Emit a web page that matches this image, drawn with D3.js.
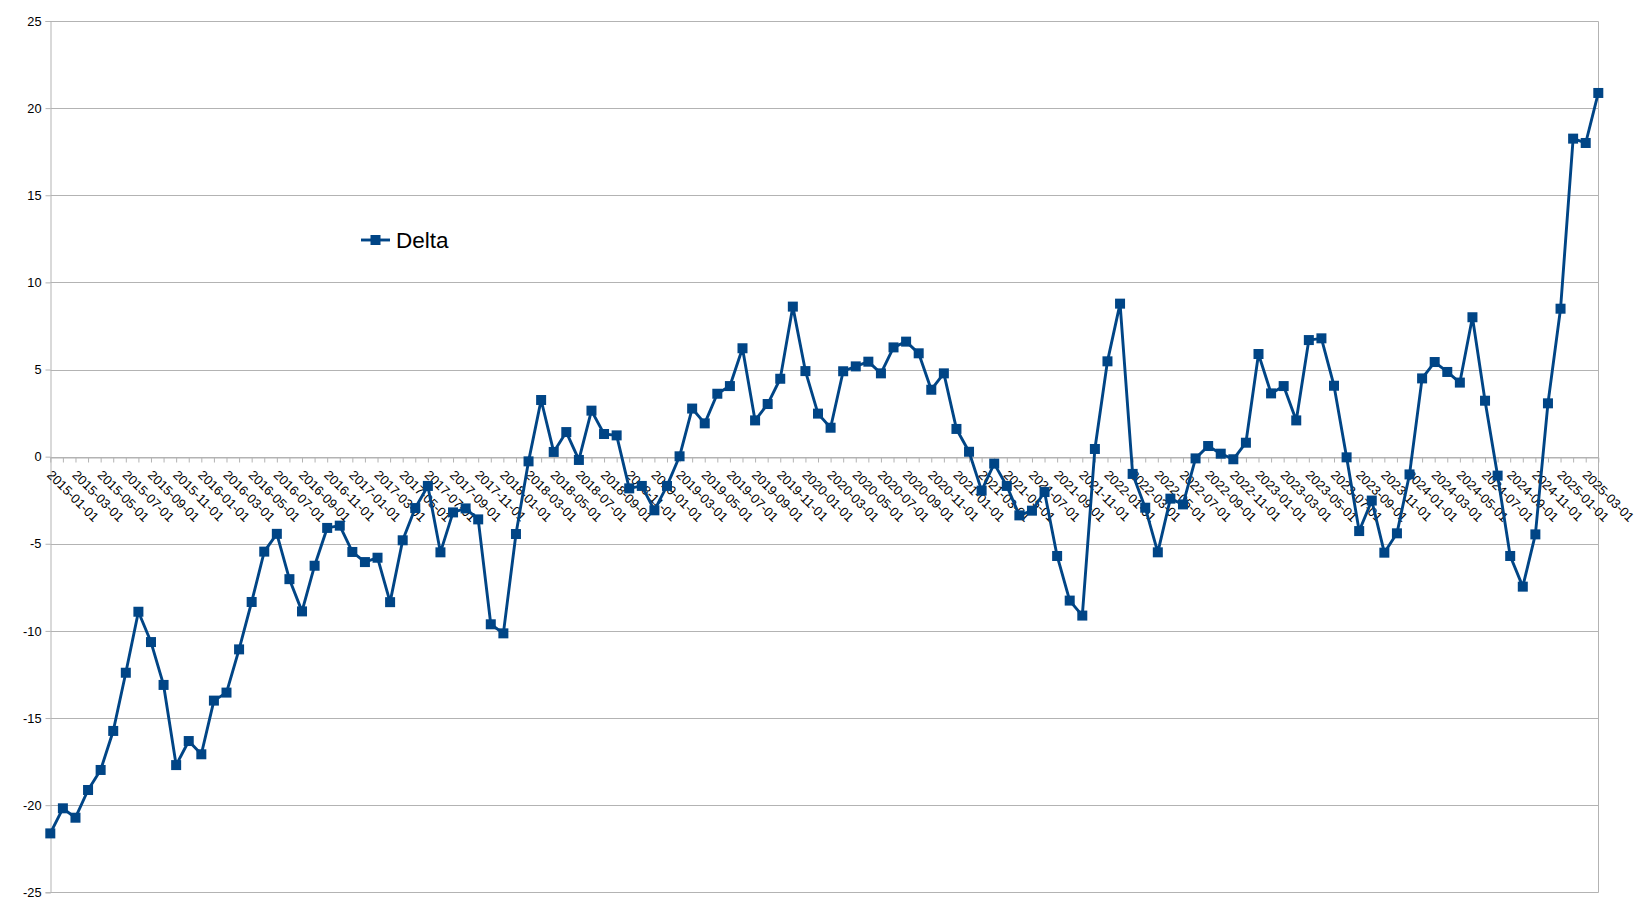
<!DOCTYPE html>
<html>
<head>
<meta charset="utf-8">
<script src="https://cdn.jsdelivr.net/npm/d3@7"></script>
<style>
  html, body { margin: 0; padding: 0; background: #ffffff; }
  svg { display: block; font-family: "Liberation Sans", Arial, sans-serif; }
</style>
</head>
<body>
<svg id="chart" width="1641" height="906"></svg>
<script>
// ---- data ----
const categories = [
  "2015-01-01","2015-02-01","2015-03-01","2015-04-01","2015-05-01","2015-06-01","2015-07-01","2015-08-01","2015-09-01","2015-10-01","2015-11-01","2015-12-01",
  "2016-01-01","2016-02-01","2016-03-01","2016-04-01","2016-05-01","2016-06-01","2016-07-01","2016-08-01","2016-09-01","2016-10-01","2016-11-01","2016-12-01",
  "2017-01-01","2017-02-01","2017-03-01","2017-04-01","2017-05-01","2017-06-01","2017-07-01","2017-08-01","2017-09-01","2017-10-01","2017-11-01","2017-12-01",
  "2018-01-01","2018-02-01","2018-03-01","2018-04-01","2018-05-01","2018-06-01","2018-07-01","2018-08-01","2018-09-01","2018-10-01","2018-11-01","2018-12-01",
  "2019-01-01","2019-02-01","2019-03-01","2019-04-01","2019-05-01","2019-06-01","2019-07-01","2019-08-01","2019-09-01","2019-10-01","2019-11-01","2019-12-01",
  "2020-01-01","2020-02-01","2020-03-01","2020-04-01","2020-05-01","2020-06-01","2020-07-01","2020-08-01","2020-09-01","2020-10-01","2020-11-01","2020-12-01",
  "2021-01-01","2021-02-01","2021-03-01","2021-04-01","2021-05-01","2021-06-01","2021-07-01","2021-08-01","2021-09-01","2021-10-01","2021-11-01","2021-12-01",
  "2022-01-01","2022-02-01","2022-03-01","2022-04-01","2022-05-01","2022-06-01","2022-07-01","2022-08-01","2022-09-01","2022-10-01","2022-11-01","2022-12-01",
  "2023-01-01","2023-02-01","2023-03-01","2023-04-01","2023-05-01","2023-06-01","2023-07-01","2023-08-01","2023-09-01","2023-10-01","2023-11-01","2023-12-01",
  "2024-01-01","2024-02-01","2024-03-01","2024-04-01","2024-05-01","2024-06-01","2024-07-01","2024-08-01","2024-09-01","2024-10-01","2024-11-01","2024-12-01",
  "2025-01-01","2025-02-01","2025-03-01","2025-04-01"
];

const delta = [
  -21.62, -20.18, -20.72, -19.13, -17.98, -15.74, -12.40, -8.90, -10.64, -13.10, -17.70, -16.32,
  -17.08, -14.00, -13.54, -11.06, -8.34, -5.45, -4.43, -7.03, -8.88, -6.26, -4.09, -3.96,
  -5.47, -6.05, -5.80, -8.35, -4.80, -2.95, -1.68, -5.49, -3.20, -2.97, -3.60, -9.62,
  -10.14, -4.44, -0.27, 3.25, 0.27, 1.41, -0.19, 2.64, 1.30, 1.22, -1.82, -1.68,
  -3.08, -1.68, 0.02, 2.76, 1.91, 3.61, 4.05, 6.22, 2.08, 3.02, 4.47, 8.61,
  4.91, 2.47, 1.66, 4.90, 5.18, 5.45, 4.78, 6.27, 6.60, 5.93, 3.84, 4.78,
  1.59, 0.28, -1.95, -0.40, -1.68, -3.37, -3.10, -2.03, -5.70, -8.26, -9.12, 0.44,
  5.47, 8.78, -0.99, -2.93, -5.49, -2.41, -2.74, -0.10, 0.61, 0.17, -0.15, 0.80,
  5.89, 3.63, 4.05, 2.08, 6.69, 6.79, 4.07, -0.04, -4.27, -2.52, -5.51, -4.40,
  -1.02, 4.49, 5.43, 4.86, 4.25, 8.00, 3.21, -1.09, -5.70, -7.46, -4.46, 3.06,
  8.49, 18.25, 18.00, 20.87
];

const seriesName = "Delta";
const yTicks = [-25, -20, -15, -10, -5, 0, 5, 10, 15, 20, 25];
// every second category carries a label
const xTickLabels = categories.filter((d, i) => i % 2 === 0);

// ---- layout ----
const W = 1641, H = 906;
const plotLeft = 50.3, plotRight = 1598.3, plotTop = 21, plotBottom = 892.3;
const lineColor = "#004586";
const gridColor = "#b3b3b3";

const svg = d3.select("#chart");
svg.append("rect").attr("width", W).attr("height", H).attr("fill", "#ffffff");

const x = d3.scalePoint().domain(categories).range([plotLeft, plotRight]);
const y = d3.scaleLinear().domain([-25, 25]).range([plotBottom, plotTop]);

const px = v => Math.round(v) + 0.5;

// gridlines
svg.append("g").selectAll("line").data(yTicks).join("line")
  .attr("x1", px(plotLeft)).attr("x2", px(plotRight))
  .attr("y1", d => px(y(d))).attr("y2", d => px(y(d)))
  .attr("stroke", gridColor).attr("stroke-width", 1);

// right border
svg.append("line")
  .attr("x1", px(plotRight)).attr("x2", px(plotRight))
  .attr("y1", px(plotTop)).attr("y2", px(plotBottom))
  .attr("stroke", gridColor).attr("stroke-width", 1);

// y axis
const yAxis = d3.axisLeft(y).tickValues(yTicks).tickSize(5).tickPadding(4)
  .tickFormat(d => String(d));
const gy = svg.append("g").attr("transform", `translate(${px(plotLeft)},0)`).call(yAxis);
gy.select(".domain").attr("stroke", gridColor);
gy.selectAll(".tick line").attr("stroke", gridColor);
gy.selectAll(".tick text").attr("fill", "#000000")
  .style("font-size", "12.8px").style("font-family", "'Liberation Sans', Arial, sans-serif");

// x axis at y = 0
const xAxis = d3.axisBottom(x).tickSize(5).tickSizeOuter(0).tickFormat("");
const gx = svg.append("g").attr("transform", `translate(0,${px(y(0))})`).call(xAxis);
gx.select(".domain").attr("stroke", gridColor);
gx.selectAll(".tick line").attr("stroke", gridColor);

// rotated x labels
svg.append("g").selectAll("text").data(xTickLabels).join("text")
  .attr("transform", d => `translate(${x(d) - 4},${y(0) + 19}) rotate(45)`)
  .attr("text-anchor", "start")
  .attr("fill", "#000000")
  .style("font-size", "13px")
  .text(d => d);

// line
const line = d3.line().x((d, i) => x(categories[i])).y(d => y(d));
svg.append("path").datum(delta)
  .attr("d", line)
  .attr("fill", "none")
  .attr("stroke", lineColor)
  .attr("stroke-width", 2.9)
  .attr("stroke-linejoin", "round");

// markers
const ms = 10;
svg.append("g").selectAll("rect").data(delta).join("rect")
  .attr("x", (d, i) => x(categories[i]) - ms / 2)
  .attr("y", d => y(d) - ms / 2)
  .attr("width", ms).attr("height", ms)
  .attr("fill", lineColor);

// legend
const lg = svg.append("g").attr("transform", "translate(361,240)");
lg.append("line").attr("x1", 0).attr("x2", 29).attr("y1", 0).attr("y2", 0)
  .attr("stroke", lineColor).attr("stroke-width", 2.9);
lg.append("rect").attr("x", 14.5 - 5).attr("y", -5).attr("width", 10).attr("height", 10)
  .attr("fill", lineColor);
lg.append("text").attr("x", 35).attr("y", 8).attr("fill", "#000000")
  .style("font-size", "22.5px").text(seriesName);
</script>
</body>
</html>
